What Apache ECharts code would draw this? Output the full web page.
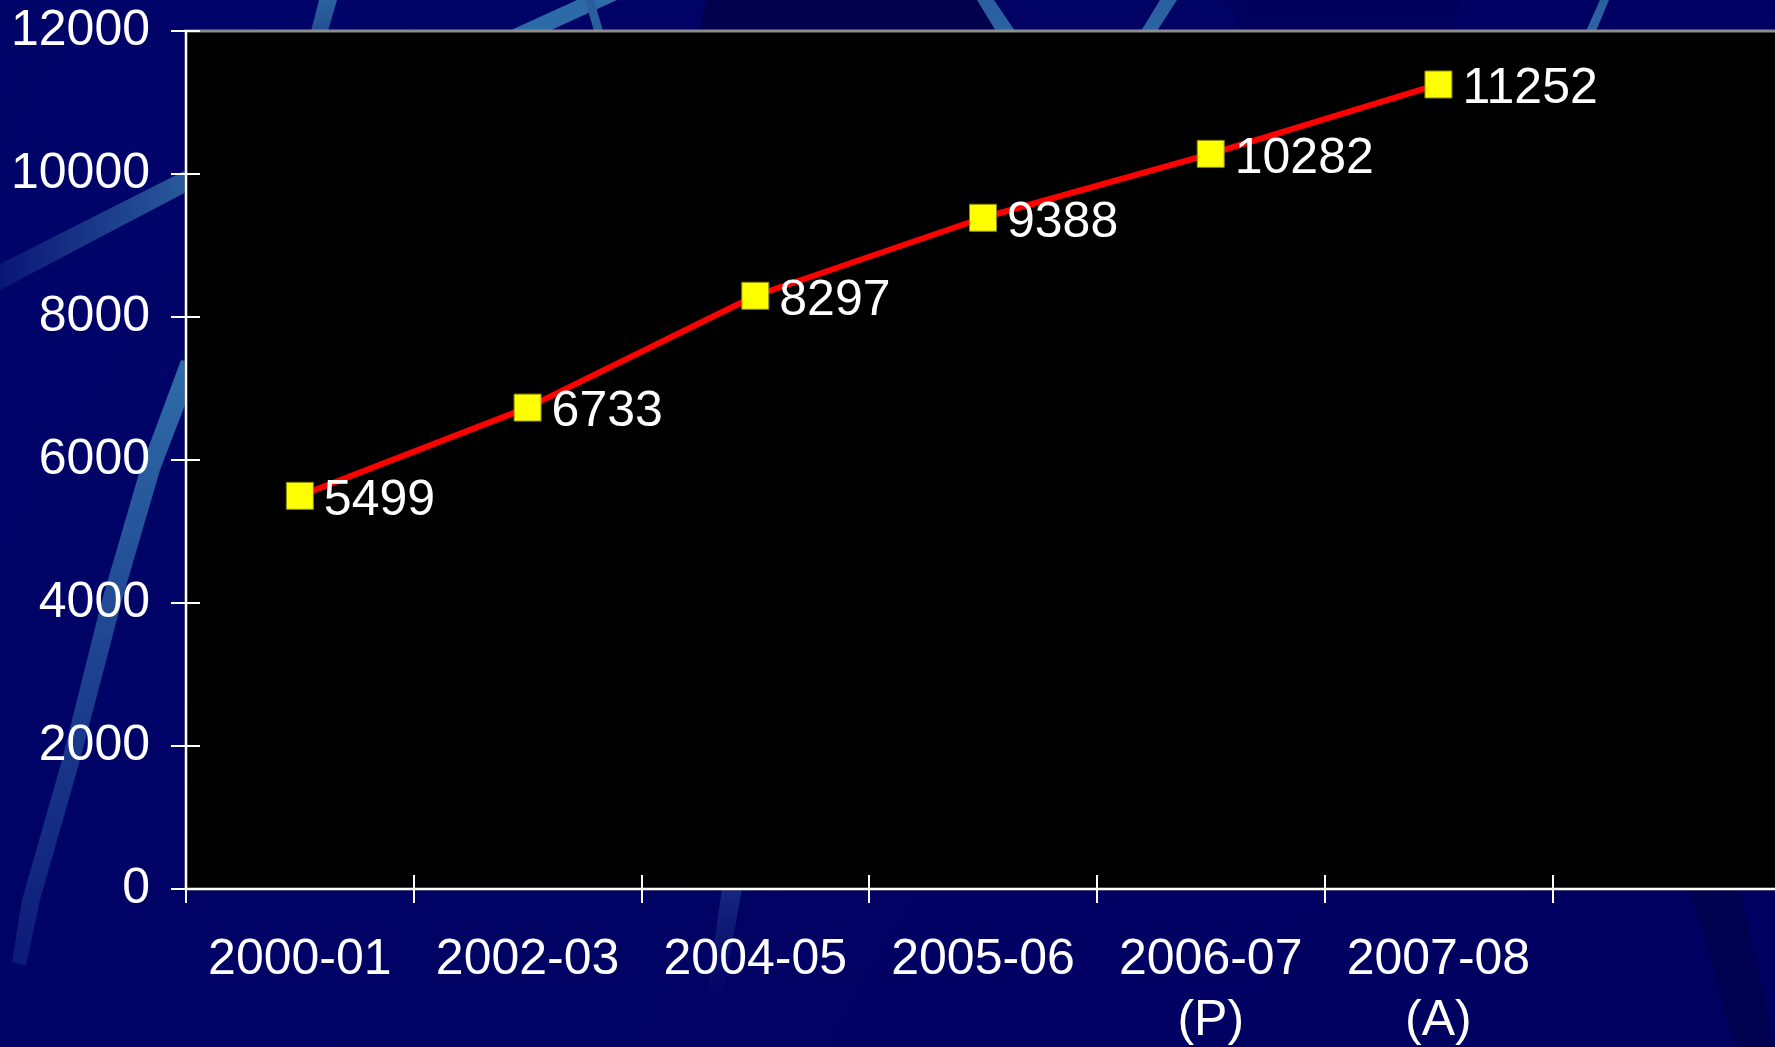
<!DOCTYPE html>
<html>
<head>
<meta charset="utf-8">
<title>Growth 2000-01 to 2007-08</title>
<script src="https://cdn.jsdelivr.net/npm/echarts@6/dist/echarts.min.js"></script>
<style>
  html, body { margin: 0; padding: 0; background: #000066; }
  #chart { width: 1775px; height: 1047px; }
</style>
</head>
<body>
<div id="chart"></div>
<script>
// Year categories along the x axis (the last slot is left empty)
const categories = ['2000-01', '2002-03', '2004-05', '2005-06', '2006-07\n(P)', '2007-08\n(A)', ''];
// Values per year
const values = [5499, 6733, 8297, 9388, 10282, 11252, null];
// Value axis range
const yMin = 0;
const yMax = 12000;
const yStep = 2000;

const FONT = '"Liberation Sans", Arial, sans-serif';
const WHITE = '#ffffff';
const FONT_SIZE = 50;

// Decorative light streaks on the navy backdrop
function streak(points, c1, c2, x1, y1, x2, y2) {
  return {
    type: 'polygon',
    z: -10,
    silent: true,
    shape: { points: points },
    style: {
      fill: new echarts.graphic.LinearGradient(x1, y1, x2, y2, [
        { offset: 0, color: c1 },
        { offset: 1, color: c2 }
      ])
    }
  };
}

const decorations = [
  // darker wedges
  { type: 'polygon', z: -11, silent: true,
    shape: { points: [[706, 0], [978, 0], [996, 31], [700, 31]] },
    style: { fill: '#00004c' } },
  { type: 'polygon', z: -11, silent: true,
    shape: { points: [[1230, 0], [1460, 0], [1455, 31], [1240, 31]] },
    style: { fill: '#00005c' } },
  { type: 'polygon', z: -11, silent: true,
    shape: { points: [[1690, 889], [1740, 889], [1775, 1047], [1735, 1047]] },
    style: { fill: '#000050' } },
  // top-edge streaks
  streak([[319, 0], [337, 0], [328, 31], [311, 31]], '#2b62a0', '#244f92', 0, 0, 0, 1),
  streak([[509, 31], [549, 31], [617, 0], [577, 0]], '#2d6aa8', '#2d6aa8', 0, 0, 1, 0),
  streak([[585, 0], [594, 0], [603, 31], [594, 31]], '#2a5f9e', '#2a5f9e', 0, 0, 0, 1),
  streak([[977, 0], [994, 0], [1015, 31], [996, 31]], '#2a5f9e', '#2c63a2', 0, 0, 0, 1),
  streak([[1160, 0], [1177, 0], [1157, 31], [1141, 31]], '#2a5f9e', '#2c63a2', 0, 0, 0, 1),
  streak([[1600, 0], [1609, 0], [1596, 31], [1586, 31]], '#2a5f9e', '#2c63a2', 0, 0, 0, 1),
  // band crossing behind the upper tick labels
  streak([[0, 264], [190, 168], [190, 190], [0, 290]], '#0a1676', '#2a5b9c', 0, 0, 1, 0),
  // long curved streak on the left
  streak([[181, 360], [190, 362], [190, 392], [160, 470], [122, 600], [80, 760], [40, 900], [26, 966],
          [12, 962], [22, 900], [62, 760], [102, 600], [140, 470]],
         '#2f6ca8', '#0c1a78', 0, 0, 0, 1),
  // faint streak under the axis
  streak([[722, 889], [742, 889], [722, 1000], [706, 1000]], 'rgba(60,110,180,0.35)', 'rgba(60,110,180,0)', 0, 0, 0, 1)
];

const chart = echarts.init(document.getElementById('chart'), null, { renderer: 'canvas' });

const axisLabelStyle = { color: WHITE, fontSize: FONT_SIZE, fontFamily: FONT };

chart.setOption({
  backgroundColor: new echarts.graphic.LinearGradient(0, 0, 1, 1, [
    { offset: 0, color: '#000468' },
    { offset: 1, color: '#000060' }
  ]),
  animation: false,
  graphic: decorations,
  grid: {
    left: 186,
    top: 31,
    right: -5,
    bottom: 158,
    show: true,
    backgroundColor: '#000000',
    borderColor: '#8c8c8c',
    borderWidth: 3,
    containLabel: false,
    outerBoundsMode: 'none'
  },
  xAxis: [
    {
      type: 'category',
      data: categories,
      boundaryGap: true,
      position: 'bottom',
      axisLine: { show: true, lineStyle: { color: WHITE, width: 2 } },
      axisTick: { show: true, length: 14, interval: 0, lineStyle: { color: WHITE, width: 2 } },
      axisLabel: Object.assign({ margin: 41, lineHeight: 61, interval: 0, hideOverlap: false }, axisLabelStyle),
      splitLine: { show: false }
    },
    {
      type: 'category',
      data: categories,
      boundaryGap: true,
      position: 'bottom',
      offset: 0,
      axisLine: { show: false },
      axisTick: { show: true, inside: true, length: 14, interval: 0, lineStyle: { color: WHITE, width: 2 } },
      axisLabel: { show: false },
      splitLine: { show: false }
    }
  ],
  yAxis: [
    {
      type: 'value',
      min: yMin,
      max: yMax,
      interval: yStep,
      position: 'left',
      axisLine: { show: true, lineStyle: { color: WHITE, width: 2 } },
      axisTick: { show: true, length: 15, lineStyle: { color: WHITE, width: 2 } },
      axisLabel: Object.assign({ margin: 36, formatter: function (v) { return String(v); } }, axisLabelStyle),
      splitLine: { show: false }
    },
    {
      type: 'value',
      min: yMin,
      max: yMax,
      interval: yStep,
      position: 'left',
      offset: 0,
      axisLine: { show: false },
      axisTick: { show: true, inside: true, length: 14, lineStyle: { color: WHITE, width: 2 } },
      axisLabel: { show: false },
      splitLine: { show: false }
    }
  ],
  series: [
    {
      type: 'line',
      xAxisIndex: 0,
      yAxisIndex: 0,
      data: values,
      connectNulls: false,
      symbol: 'rect',
      symbolSize: 27,
      lineStyle: { color: '#ff0000', width: 6 },
      itemStyle: { color: '#ffff00', borderColor: '#8a8a00', borderWidth: 1 },
      label: {
        show: true,
        position: 'right',
        distance: 10,
        offset: [0, 5],
        color: WHITE,
        fontSize: FONT_SIZE,
        fontFamily: FONT
      },
      z: 5
    }
  ]
});
</script>
</body>
</html>
